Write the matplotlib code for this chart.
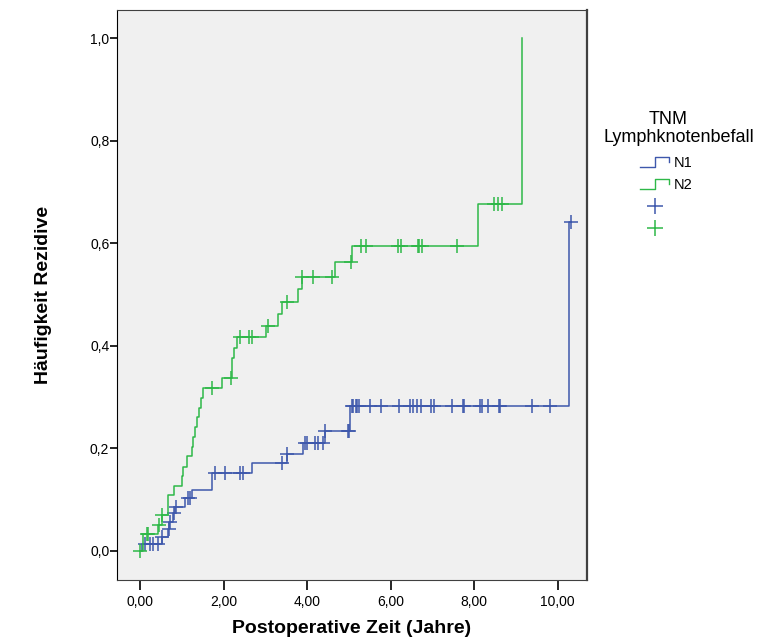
import matplotlib
matplotlib.use("Agg")
import matplotlib.pyplot as plt
from matplotlib.lines import Line2D
from matplotlib.legend_handler import HandlerBase
from matplotlib.ticker import FuncFormatter

plt.rcParams['font.family'] = ['Liberation Sans', 'DejaVu Sans']

# N1 - event times and cumulative recurrence after each event
n1_times = [0.06, 0.52, 0.678, 0.706, 0.79, 0.85, 1.077, 1.252, 1.717, 2.689,
            3.512, 3.91, 4.429, 5.027, 10.278]
n1_levels = [0.013, 0.027, 0.042, 0.057, 0.073, 0.086, 0.103, 0.119, 0.151, 0.171,
             0.189, 0.21, 0.233, 0.283, 0.642]
n1_end = 10.311
n1_cens_t = [0.12, 0.239, 0.323, 0.424, 0.534, 0.694, 0.718, 0.814, 0.862, 1.156,
             1.197, 1.796, 2.035, 2.394, 2.459, 3.392, 3.527, 3.95, 3.991, 4.19,
             4.269, 4.374, 4.429, 4.987, 5.011, 5.068, 5.107, 5.171, 5.202, 5.25,
             5.506, 5.762, 6.208, 6.464, 6.529, 6.624, 6.72, 6.967, 7.046, 7.462,
             7.726, 7.764, 8.14, 8.18, 8.338, 8.595, 8.619, 9.378, 9.816, 10.311]

# N2
n2_times = [0.079, 0.438, 0.534, 0.678, 0.821, 0.998, 1.037, 1.132, 1.245, 1.276,
            1.324, 1.357, 1.405, 1.453, 1.501, 1.97, 2.21, 2.258, 2.315, 3.017,
            3.311, 3.392, 3.775, 3.871, 4.668, 5.068, 8.099, 9.138]
n2_levels = [0.033, 0.051, 0.07, 0.108, 0.127, 0.145, 0.164, 0.184, 0.203, 0.222,
             0.242, 0.261, 0.278, 0.298, 0.317, 0.337, 0.376, 0.396, 0.417, 0.439,
             0.462, 0.485, 0.51, 0.535, 0.564, 0.595, 0.676, 1.0]
n2_cens_t = [0.0, 0.16, 0.199, 0.462, 0.534, 1.736, 2.19, 2.394, 2.609, 2.689,
             3.057, 3.527, 3.871, 4.149, 4.604, 5.051, 5.298, 5.399, 6.184, 6.241,
             6.648, 6.687, 6.744, 7.582, 8.475, 8.559, 8.659]

blue = '#3e58ac'
green = '#2eb848'


def level_at(t, times, levels):
    y = 0.0
    for ti, yi in zip(times, levels):
        if ti <= t:
            y = yi
    return y


fig = plt.figure(figsize=(7.62, 6.44), dpi=100)
ax = fig.add_axes([0.1535, 0.0994, 0.6168, 0.885])
ax.set_facecolor('#f0f0f0')

for times, levels, end, cens, col in [
        (n1_times, n1_levels, n1_end, n1_cens_t, blue),
        (n2_times, n2_levels, None, n2_cens_t, green)]:
    xs = [0.0] + times
    ys = [0.0] + levels
    if end is not None:
        xs = xs + [end]
        ys = ys + [levels[-1]]
    ax.step(xs, ys, where='post', color=col, lw=1.1)
    cy = [level_at(t, times, levels) for t in cens]
    ax.plot(cens, cy, ls='', marker='+', ms=10, mew=1.1, color=col)

ax.set_xlim(-0.55, 10.70)
ax.set_ylim(-0.057, 1.055)
ax.set_xticks([0, 2, 4, 6, 8, 10])
ax.set_yticks([0, 0.2, 0.4, 0.6, 0.8, 1.0])
ax.xaxis.set_major_formatter(FuncFormatter(lambda v, p: f"{v:.2f}".replace('.', ',')))
ax.yaxis.set_major_formatter(FuncFormatter(lambda v, p: f"{v:.1f}".replace('.', ',')))
ax.tick_params(direction='out', width=1.2, labelsize=10, colors='black')
ax.tick_params(axis='x', length=7, pad=4)
ax.tick_params(axis='y', length=5, pad=0.5)
for s in ['top', 'right', 'bottom']:
    ax.spines[s].set_color('#404040')
ax.spines['right'].set_linewidth(1.6)
ax.spines['left'].set_color('black')

ax.set_xlabel('Postoperative Zeit (Jahre)', fontsize=14, fontweight='bold', labelpad=8)
ax.set_ylabel('Häufigkeit Rezidive', fontsize=14, fontweight='bold', labelpad=27)


class StepHandler(HandlerBase):
    def create_artists(self, legend, orig_handle, xdescent, ydescent,
                       width, height, fontsize, trans):
        xs = [-xdescent, -xdescent + 0.5 * width, -xdescent + 0.5 * width,
              -xdescent + width, -xdescent + width]
        ys = [0.0, 0.0, 0.95 * height, 0.95 * height, 0.45 * height]
        ln = Line2D(xs, ys, color=orig_handle.get_color(), lw=1.0, transform=trans)
        return [ln]


# legend title (two lines, as in the original)
fig.text(0.877, 0.814, 'TNM', ha='center', va='center', fontsize=13)
fig.text(0.891, 0.786, 'Lymphknotenbefall', ha='center', va='center', fontsize=13)

h1 = Line2D([], [], color=blue)
h2 = Line2D([], [], color=green)
h3 = Line2D([], [], ls='', marker='+', ms=12, mew=1.1, color=blue)
h4 = Line2D([], [], ls='', marker='+', ms=12, mew=1.1, color=green)
leg = fig.legend([h1, h2, h3, h4], ['N1', 'N2', '', ''],
                 handler_map={h1: StepHandler(), h2: StepHandler()},
                 loc='upper left', bbox_to_anchor=(0.84, 0.758), borderpad=0,
                 borderaxespad=0, frameon=False, fontsize=10.5,
                 handlelength=2.0, handletextpad=0.3, labelspacing=0.55)

fig.savefig('out.png', dpi=100)
